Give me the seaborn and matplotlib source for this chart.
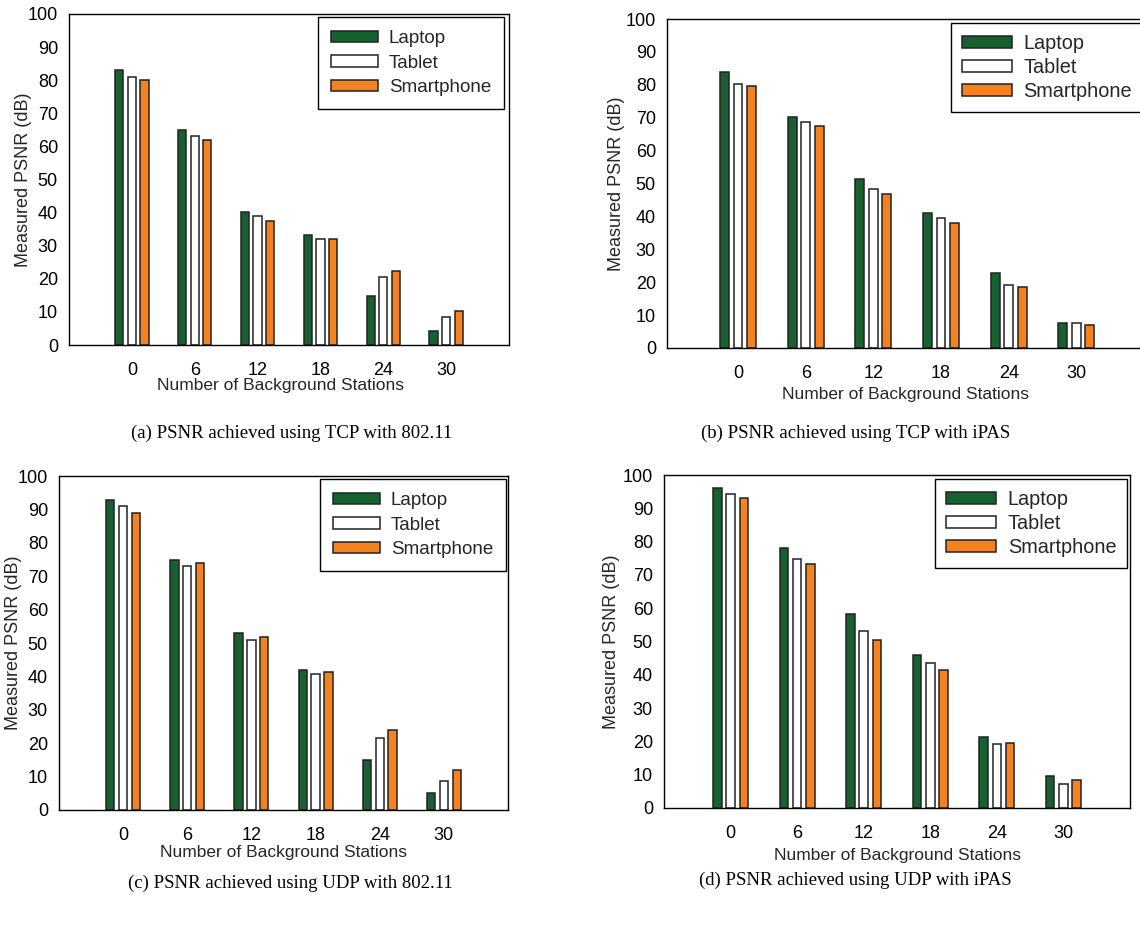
import numpy as np
import matplotlib
matplotlib.use('Agg')
import matplotlib.pyplot as plt
from matplotlib.patches import Patch
import seaborn as sns
import pandas as pd

sns.set_style('white')
plt.rcParams['font.family'] = ['Liberation Sans', 'DejaVu Sans']

# --- data ---
stations = ['0', '6', '12', '18', '24', '30']
devices = ['Laptop', 'Tablet', 'Smartphone']
colors = ['#17602f', '#ffffff', '#f6821f']

a_laptop = [83.1, 64.9, 40.1, 33.1, 14.9, 4.2]
a_tablet = [81.0, 63.1, 38.9, 32.1, 20.6, 8.4]
a_smart = [80.0, 61.9, 37.5, 32.1, 22.4, 10.2]

b_laptop = [83.8, 70.2, 51.4, 41.1, 22.8, 7.7]
b_tablet = [80.3, 68.6, 48.2, 39.6, 19.1, 7.7]
b_smart = [79.5, 67.4, 46.9, 37.9, 18.4, 7.0]

c_laptop = [92.9, 75.0, 53.0, 41.9, 14.9, 5.0]
c_tablet = [91.1, 73.0, 50.9, 40.8, 21.5, 8.8]
c_smart = [89.0, 74.0, 51.8, 41.3, 23.9, 12.1]

d_laptop = [96.0, 78.2, 58.3, 45.9, 21.4, 9.6]
d_tablet = [94.2, 74.7, 53.2, 43.5, 19.2, 7.2]
d_smart = [93.0, 73.3, 50.6, 41.5, 19.5, 8.3]

captions = ['(a) PSNR achieved using TCP with 802.11',
            '(b) PSNR achieved using TCP with iPAS',
            '(c) PSNR achieved using UDP with 802.11',
            '(d) PSNR achieved using UDP with iPAS']

W, H = 1140, 925
fig = plt.figure(figsize=(W / 100, H / 100), dpi=100)
fig.patch.set_facecolor('white')


def px_axes(left, right, top, bottom):
    return fig.add_axes([left / W, 1 - bottom / H, (right - left) / W, (bottom - top) / H])


def long_frame(laptop, tablet, smart):
    rows = []
    for dev, vals in zip(devices, [laptop, tablet, smart]):
        for st, v in zip(stations, vals):
            rows.append({'Stations': st, 'Device': dev, 'PSNR': v})
    return pd.DataFrame(rows)


def draw_panel(ax, df, xlim, xlab_pos, ylab_pos, leg_anchor, leg_size=13.5,
               spacing=0.4, bpad=0.7):
    sns.barplot(data=df, x='Stations', y='PSNR', hue='Device',
                order=stations, hue_order=devices, palette=colors,
                width=0.6, gap=0.35, edgecolor='#222222', linewidth=1.1,
                saturation=1, errorbar=None, legend=False, ax=ax)
    ax.set_ylim(0, 100)
    ax.set_yticks(np.arange(0, 101, 10))
    ax.set_xlim(*xlim)
    for s in ax.spines.values():
        s.set_visible(True)
        s.set_color('black')
        s.set_linewidth(1.0)
    ax.tick_params(axis='both', direction='out', length=5, width=1,
                   color='black', labelsize=13, labelcolor='black')
    ax.tick_params(axis='x', pad=7)
    ax.tick_params(axis='y', pad=3)
    ax.set_xlabel('Number of Background Stations', fontsize=12.5)
    ax.set_ylabel('Measured PSNR (dB)', fontsize=13)
    ax.xaxis.set_label_coords(*xlab_pos)
    ax.yaxis.set_label_coords(*ylab_pos)
    handles = [Patch(facecolor=c, edgecolor='#222222', linewidth=1.1) for c in colors]
    leg = ax.legend(handles, devices, loc='upper right', bbox_to_anchor=leg_anchor,
                    fontsize=leg_size, frameon=True, fancybox=False, framealpha=1,
                    edgecolor='black', handlelength=2.5, handleheight=0.55,
                    handletextpad=0.6, labelspacing=spacing, borderpad=bpad,
                    borderaxespad=0)
    leg.get_frame().set_linewidth(1.0)


# (a)
ax_a = px_axes(69, 509, 14, 345)
draw_panel(ax_a, long_frame(a_laptop, a_tablet, a_smart), (-1, 6),
           (0.48, -0.1), (-0.085, 0.5), (0.989, 0.991))
# (b) - right edge runs just past the image border
ax_b = px_axes(667, 1144, 19, 348)
draw_panel(ax_b, long_frame(b_laptop, b_tablet, b_smart), (-1.05, 6.0),
           (0.5, -0.12), (-0.088, 0.5), (0.998, 0.988), leg_size=14.3,
           spacing=0.25, bpad=0.55)
# (c)
ax_c = px_axes(59, 508, 476, 810)
draw_panel(ax_c, long_frame(c_laptop, c_tablet, c_smart), (-1, 6),
           (0.5, -0.105), (-0.082, 0.5), (0.996, 0.991))
# (d)
ax_d = px_axes(664, 1130, 475, 808)
draw_panel(ax_d, long_frame(d_laptop, d_tablet, d_smart), (-1, 6),
           (0.5, -0.12), (-0.095, 0.5), (0.994, 0.988), leg_size=14.3,
           spacing=0.25, bpad=0.55)

# captions
cap_pos = [(292, 433), (856, 433), (290, 883), (855, 880)]
for txt, (x, y) in zip(captions, cap_pos):
    fig.text(x / W, 1 - y / H, txt, ha='center', va='center',
             fontsize=13.5, family='Liberation Serif', color='black')

fig.savefig('out.png', dpi=100, facecolor='white')
